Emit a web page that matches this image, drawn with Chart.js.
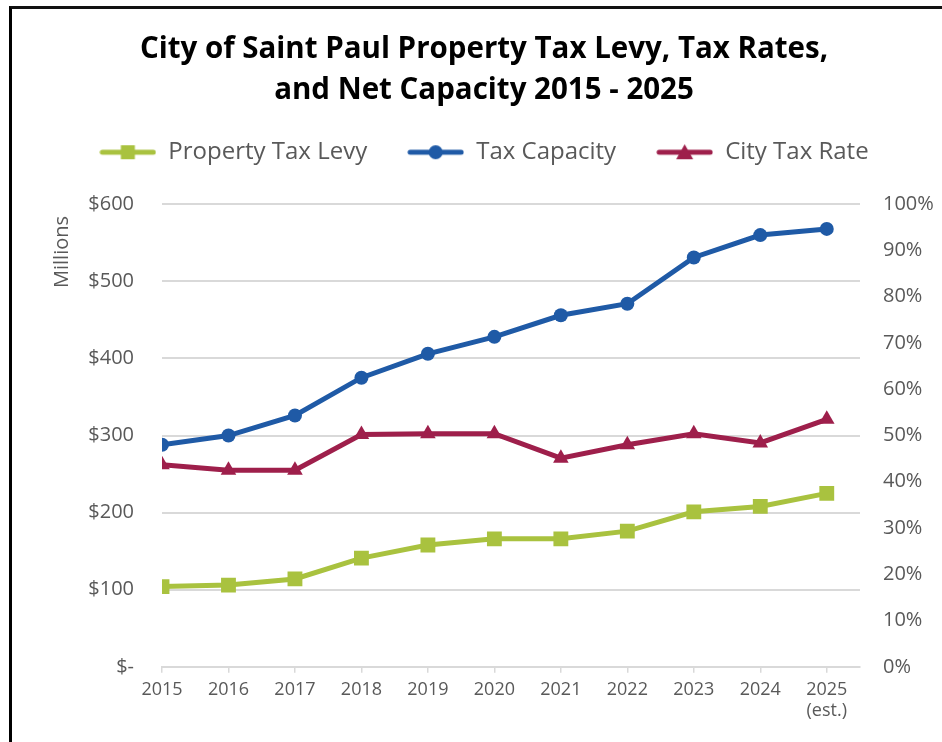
<!DOCTYPE html>
<html><head><meta charset="utf-8">
<script src="https://cdn.jsdelivr.net/npm/chart.js@4/dist/chart.umd.min.js"></script>
<style>
html,body{margin:0;padding:0;background:#fff;}
#wrap{position:relative;width:942px;height:742px;overflow:hidden;}
#frame{position:absolute;left:9px;top:6px;width:1000px;height:800px;border-left:3px solid #000;border-top:3px solid #111;box-sizing:border-box;pointer-events:none;}
canvas{position:absolute;left:0;top:0;}
</style></head><body>
<div id="wrap"><canvas id="c" width="942" height="742"></canvas><div id="frame"></div></div>
<script>
// ---- data ----
const years = [2015, 2016, 2017, 2018, 2019, 2020, 2021, 2022, 2023, 2024, 2025];
const xTickLabels = ['2015', '2016', '2017', '2018', '2019', '2020', '2021', '2022', '2023', '2024', ['2025', '(est.)']];
const propertyTaxLevy = [104, 106, 114, 141, 158, 166, 166, 176, 201, 208, 225];   // $ millions
const taxCapacity = [288, 300, 326, 375, 406, 428, 456, 471, 531, 560, 568];       // $ millions
const cityTaxRate = [43.7, 42.5, 42.5, 50.2, 50.4, 50.4, 45.1, 48.0, 50.4, 48.4, 53.5]; // percent
const leftTickValues = [0, 100, 200, 300, 400, 500, 600];
const leftTickLabels = ['$-', '$100', '$200', '$300', '$400', '$500', '$600'];
const seriesNames = ['Property Tax Levy', 'Tax Capacity', 'City Tax Rate'];

const GREEN = '#a9c23f', BLUE = '#1f5aa6', RED = '#9e1f4b';
const TEXT = '#595959', GRID = '#d9d9d9';
const PAD_LEFT = 26;

function legendIcon(color, shape) {
  const c = document.createElement('canvas');
  c.width = 57; c.height = 20;
  const g = c.getContext('2d');
  g.strokeStyle = color; g.lineWidth = 5; g.lineCap = 'round';
  g.beginPath(); g.moveTo(3, 10); g.lineTo(54, 10); g.stroke();
  g.fillStyle = color;
  g.beginPath();
  if (shape === 'rect') g.rect(28.5 - 7, 3, 14, 14);
  else if (shape === 'circle') g.arc(28.5, 10, 7, 0, Math.PI * 2);
  else { g.moveTo(28.5, 2); g.lineTo(37, 17); g.lineTo(20, 17); g.closePath(); }
  g.fill();
  return c;
}

const pts = arr => arr.map((v, i) => ({x: years[i], y: v}));

const millionsLabel = {
  id: 'millionsLabel',
  afterDraw(chart) {
    const ctx = chart.ctx;
    ctx.save();
    ctx.translate(62, 252);
    ctx.rotate(-Math.PI / 2);
    ctx.font = '20px "Open Sans"';
    ctx.fillStyle = TEXT;
    ctx.textAlign = 'center';
    ctx.textBaseline = 'middle';
    ctx.fillText('Millions', 0, 0);
    ctx.restore();
  }
};

new Chart(document.getElementById('c'), {
  type: 'line',
  data: {
    datasets: [
      {label: seriesNames[0], data: pts(propertyTaxLevy), xAxisID: 'x', yAxisID: 'y', borderColor: GREEN, backgroundColor: GREEN,
        borderWidth: 5, pointStyle: 'rect', pointRadius: 10.5, pointHoverRadius: 10.5, pointBorderWidth: 0, tension: 0,
        legendIcon: legendIcon(GREEN, 'rect')},
      {label: seriesNames[1], data: pts(taxCapacity), xAxisID: 'x', yAxisID: 'y', borderColor: BLUE, backgroundColor: BLUE,
        borderWidth: 5, pointStyle: 'circle', pointRadius: 7, pointHoverRadius: 7, pointBorderWidth: 0, tension: 0,
        legendIcon: legendIcon(BLUE, 'circle')},
      {label: seriesNames[2], data: pts(cityTaxRate), xAxisID: 'x', yAxisID: 'y1', borderColor: RED, backgroundColor: RED,
        borderWidth: 5, pointStyle: 'triangle', pointRadius: 9, pointHoverRadius: 9, pointBorderWidth: 0, tension: 0,
        legendIcon: legendIcon(RED, 'tri')}
    ]
  },
  options: {
    responsive: false,
    animation: false,
    layout: {padding: {left: PAD_LEFT, right: 0, top: 0, bottom: 14}},
    plugins: {
      tooltip: {enabled: false},
      title: {
        display: true,
        text: ['City of Saint Paul Property Tax Levy, Tax Rates,', 'and Net Capacity 2015 - 2025'],
        font: {family: '"Open Sans"', size: 29.5, weight: 'bold', lineHeight: 1.36},
        color: '#000',
        padding: {top: 30, bottom: -10}
      },
      legend: {
        display: true,
        position: 'top',
        labels: {
          usePointStyle: true,
          pointStyleWidth: 57,
          padding: 40,
          color: TEXT,
          font: {family: '"Open Sans"', size: 24},
          generateLabels(chart) {
            return chart.data.datasets.map((ds, i) => ({
              text: ds.label, pointStyle: ds.legendIcon, fillStyle: ds.borderColor,
              strokeStyle: ds.borderColor, lineWidth: 0, hidden: false, datasetIndex: i, fontColor: TEXT
            }));
          }
        }
      }
    },
    scales: {
      x: {
        type: 'linear',
        position: 'bottom',
        min: 2015, max: 2025.5,
        ticks: {
          stepSize: 1, includeBounds: false, autoSkip: false, maxRotation: 0, padding: 6,
          color: TEXT, font: {family: '"Open Sans"', size: 18},
          callback: v => { const i = years.indexOf(v); return i >= 0 ? xTickLabels[i] : ''; }
        },
        grid: {display: true, drawOnChartArea: false, drawTicks: true, tickLength: 6, color: GRID, lineWidth: 1.5},
        border: {display: true, color: GRID, width: 2}
      },
      spacerTop: {
        type: 'linear',
        position: 'top',
        min: 0, max: 1,
        afterFit: s => { s.height = 30; },
        ticks: {display: false},
        grid: {display: false, drawTicks: false},
        border: {display: false}
      },
      y: {
        position: 'left',
        min: 0, max: 600,
        afterBuildTicks: s => { s.ticks = leftTickValues.map(v => ({value: v})); },
        afterFit: s => { s.width = 162 - PAD_LEFT; },
        ticks: {
          padding: 28, color: TEXT, font: {family: '"Open Sans"', size: 20},
          callback: v => leftTickLabels[leftTickValues.indexOf(v)]
        },
        grid: {color: GRID, lineWidth: 2, drawTicks: false},
        border: {display: false}
      },
      y1: {
        position: 'right',
        min: 0, max: 100,
        afterFit: s => { s.width = 82; },
        ticks: {
          stepSize: 10, padding: 23, color: TEXT, font: {family: '"Open Sans"', size: 20},
          callback: v => v + '%'
        },
        grid: {display: false, drawTicks: false},
        border: {display: false}
      }
    }
  },
  plugins: [millionsLabel]
});
</script>
</body></html>
